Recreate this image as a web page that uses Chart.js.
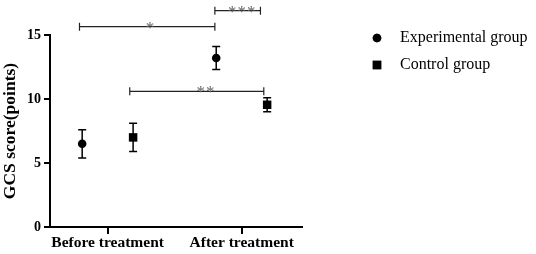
<!DOCTYPE html>
<html>
<head>
<meta charset="utf-8">
<script src="https://cdn.jsdelivr.net/npm/chart.js@4"></script>
<style>
  html, body { margin: 0; padding: 0; background: #fff; }
  #wrap { width: 536px; height: 254px; }
</style>
</head>
<body>
<div id="wrap"><canvas id="gcs-chart"></canvas></div>
<script>
const categories = ['Before treatment', 'After treatment'];
const expMean = [6.5, 13.2];
const expSD = [1.1, 0.9];
const ctrlMean = [7.0, 9.55];
const ctrlSD = [1.1, 0.55];
const groupLabels = ['Experimental group', 'Control group'];

// significance brackets (x in category units, y in points)
const bracketFrom = [0.79, 1.80, 1.165];
const bracketTo = [1.80, 2.14, 2.165];
const bracketY = [15.65, 16.9, 10.6];
const bracketText = ['*', '***', '**'];
const bracketTextX = [1.316, 2.0, 1.73];

const offset = 0.19;
const serif = "'Liberation Serif', 'Times New Roman', serif";

const toPoints = (means, shift) => means.map((v, i) => ({x: i + 1 + shift, y: v}));

const errorBars = {
  id: 'errorBars',
  beforeDatasetsDraw(chart) {
    const {ctx, scales: {x, y}} = chart;
    const sds = [expSD, ctrlSD];
    ctx.save();
    ctx.strokeStyle = '#000';
    ctx.lineWidth = 1.5;
    chart.data.datasets.forEach((ds, d) => {
      ds.data.forEach((p, i) => {
        const px = x.getPixelForValue(p.x);
        const top = y.getPixelForValue(p.y + sds[d][i]);
        const bot = y.getPixelForValue(p.y - sds[d][i]);
        ctx.beginPath();
        ctx.moveTo(px, top); ctx.lineTo(px, bot);
        ctx.moveTo(px - 4, top); ctx.lineTo(px + 4, top);
        ctx.moveTo(px - 4, bot); ctx.lineTo(px + 4, bot);
        ctx.stroke();
      });
    });
    ctx.restore();
  }
};

const brackets = {
  id: 'brackets',
  afterDatasetsDraw(chart) {
    const {ctx, scales: {x, y}} = chart;
    ctx.save();
    ctx.strokeStyle = '#222';
    ctx.lineWidth = 1.2;
    ctx.fillStyle = '#666';
    ctx.font = '17px ' + serif;
    ctx.textAlign = 'center';
    ctx.textBaseline = 'alphabetic';
    bracketY.forEach((v, i) => {
      const x1 = x.getPixelForValue(bracketFrom[i]);
      const x2 = x.getPixelForValue(bracketTo[i]);
      const py = y.getPixelForValue(v);
      ctx.beginPath();
      ctx.moveTo(x1, py); ctx.lineTo(x2, py);
      ctx.moveTo(x1, py - 4); ctx.lineTo(x1, py + 4);
      ctx.moveTo(x2, py - 4); ctx.lineTo(x2, py + 4);
      ctx.stroke();
      const n = bracketText[i].length;
      const cx = x.getPixelForValue(bracketTextX[i]);
      for (let k = 0; k < n; k++) {
        ctx.fillText('*', cx + (k - (n - 1) / 2) * 9.5, py + 6);
      }
    });
    ctx.restore();
  }
};

const sideLegend = {
  id: 'sideLegend',
  afterDraw(chart) {
    const {ctx} = chart;
    ctx.save();
    ctx.font = '16px ' + serif;
    ctx.textBaseline = 'middle';
    ctx.fillStyle = '#000';
    chart.data.datasets.forEach((ds, i) => {
      const cy = 38 + i * 27;
      Chart.helpers.drawPoint(ctx, {pointStyle: ds.pointStyle, radius: ds.pointRadius, borderWidth: 0}, 377, cy);
      ctx.fill();
      ctx.fillText(ds.label, 400, cy);
    });
    ctx.restore();
  }
};

new Chart(document.getElementById('gcs-chart').getContext('2d'), {
  type: 'scatter',
  plugins: [errorBars, brackets, sideLegend],
  data: {
    datasets: [{
      label: groupLabels[0],
      data: toPoints(expMean, -offset),
      pointStyle: 'circle',
      pointRadius: 4.3,
      backgroundColor: '#000',
      borderColor: '#000',
      borderWidth: 0,
      clip: false
    }, {
      label: groupLabels[1],
      data: toPoints(ctrlMean, offset),
      pointStyle: 'rect',
      pointRadius: 6,
      backgroundColor: '#000',
      borderColor: '#000',
      borderWidth: 0,
      clip: false
    }]
  },
  options: {
    responsive: true,
    maintainAspectRatio: false,
    animation: false,
    layout: {
      padding: {top: 35, right: 234, left: 0, bottom: 0}
    },
    plugins: {
      legend: {display: false},
      tooltip: {enabled: false}
    },
    scales: {
      x: {
        type: 'linear',
        min: 0.57,
        max: 2.45,
        afterBuildTicks: (scale) => { scale.ticks = categories.map((c, i) => ({value: i + 1})); },
        afterFit: (scale) => { scale.height = 27; },
        ticks: {
          color: '#000',
          padding: 0,
          font: {family: serif, size: 15.5, weight: 'bold'},
          callback: (v) => categories[v - 1]
        },
        grid: {display: true, drawOnChartArea: false, drawTicks: true, tickLength: 7, color: '#000', lineWidth: 2},
        border: {display: true, color: '#000', width: 2}
      },
      y: {
        min: 0,
        max: 15,
        afterFit: (scale) => { scale.width = 50; },
        ticks: {
          stepSize: 5,
          color: '#000',
          padding: 3,
          font: {family: serif, size: 14, weight: 'bold'}
        },
        title: {
          display: true,
          text: 'GCS score(points)',
          color: '#000',
          padding: 0,
          font: {family: serif, size: 17.5, weight: 'bold'}
        },
        grid: {display: true, drawOnChartArea: false, drawTicks: true, tickLength: 6, color: '#000', lineWidth: 2},
        border: {display: true, color: '#000', width: 2}
      }
    }
  }
});
</script>
</body>
</html>
